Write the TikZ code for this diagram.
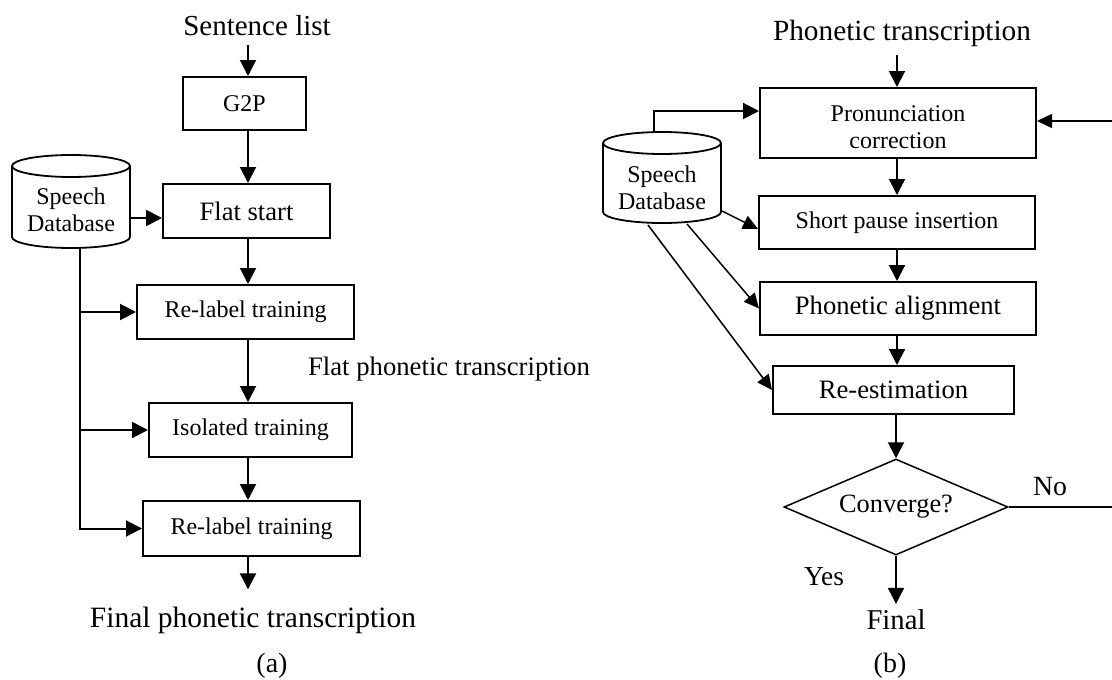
\documentclass[tikz,border=0pt]{standalone}
\usepackage{fontspec}
\setmainfont{Liberation Serif}
\usetikzlibrary{arrows.meta,shapes.geometric}
\begin{document}
\begin{tikzpicture}[x=1pt,y=-1pt,
  proc/.style={draw,line width=2pt,inner sep=0pt,align=center},
  fs/.style={font=\fontsize{24}{27}\selectfont},
  fm/.style={font=\fontsize{26.6}{29}\selectfont},
  fl/.style={font=\fontsize{29}{32}\selectfont},
  lbl/.style={inner sep=0pt,anchor=base},
  arr/.style={line width=2pt,-{Triangle[length=16pt,width=16pt]}},
  darr/.style={line width=1.5pt,-{Triangle[length=15pt,width=14pt]}},
  cyl/.style={line width=1.8pt},
]
\fill[white] (0,0) rectangle (1112,680);
\useasboundingbox (0,0) rectangle (1112,680);
\clip (0,0) rectangle (1112,680);

% ---------------- (a) ----------------
\coordinate (lx) at (248,0);
\node[lbl,fl] (sl) at (257,35) {Sentence list};
\node[proc,fs,minimum width=123pt,minimum height=53pt] (g2p) at (244.5,103.5) {G2P};
\node[proc,fm,minimum width=167pt,minimum height=54pt] (flat) at (246.5,211) {Flat start};
\node[proc,fs,minimum width=217pt,minimum height=54pt] (rl1) at (245.5,312) {Re-label training};
\node[proc,fs,minimum width=203pt,minimum height=54pt] (iso) at (250.5,430) {Isolated training};
\node[proc,fs,minimum width=217pt,minimum height=55pt] (rl2) at (251.5,528.5) {Re-label training};
\node[lbl,font=\fontsize{26.7}{29}\selectfont] (fpt) at (449,375) {Flat phonetic transcription};
\node[lbl,font=\fontsize{29.5}{32}\selectfont] (fin1) at (253,627) {Final phonetic transcription};
\node[lbl,font=\fontsize{28}{30}\selectfont] (capa) at (272,672) {(a)};

% database (a)
\draw[cyl] (12,166) -- (12,237) arc[start angle=180,end angle=360,x radius=59pt,y radius=11pt] -- (130,166);
\draw[cyl] (71,166) ellipse[x radius=59pt,y radius=11pt];
\node[fs,align=center,inner sep=0pt] (db1) at (71,210) {Speech\\Database};
\coordinate (db1r) at (130,218);
\coordinate (db1b) at (80,247);

\draw[arr] (sl.south -| lx) ++(0,10) -- (g2p.north -| lx);
\draw[arr] (g2p.south -| lx) -- (flat.north -| lx);
\draw[arr] (flat.south -| lx) -- (rl1.north -| lx);
\draw[arr] (rl1.south -| lx) -- (iso.north -| lx);
\draw[arr] (iso.south -| lx) -- (rl2.north -| lx);
\draw[arr] (rl2.south -| lx) -- ([yshift=17pt]fin1.north -| lx);
\draw[arr] (db1r) -- (db1r -| flat.west);
\draw[arr] (db1b) |- (rl2.west);
\draw[arr] (db1b |- rl1.west) -- (rl1.west);
\draw[arr] (db1b |- iso.west) -- (iso.west);

% ---------------- (b) ----------------
\coordinate (ax) at (897,0);
\node[lbl,font=\fontsize{29.3}{32}\selectfont] (pt) at (902,40) {Phonetic transcription};
\node[proc,minimum width=276pt,minimum height=70pt] (pron) at (898,123) {};
\node[inner sep=0pt,align=center,font=\fontsize{24}{26.5}\selectfont] (pronT) at (898,127) {Pronunciation\\correction};
\node[proc,fs,minimum width=276pt,minimum height=53pt] (spi) at (897,222.5) {Short pause insertion};
\node[proc,fm,minimum width=276pt,minimum height=53pt] (pa) at (898,308.5) {Phonetic alignment};
\node[proc,fm,minimum width=241pt,minimum height=48pt] (re) at (893.5,390) {Re-estimation};
\node[draw,diamond,line width=1.5pt,shape aspect=2.33,minimum width=224pt,minimum height=96pt,inner sep=0pt,font=\fontsize{26.4}{29}\selectfont] (conv) at (896,507) {Converge?};
\node[lbl,font=\fontsize{28.7}{31}\selectfont] (fin2) at (896,629) {Final};
\node[lbl,font=\fontsize{27.4}{30}\selectfont] (yes) at (824,585) {Yes};
\node[lbl,font=\fontsize{27.8}{30}\selectfont] (no) at (1050,495) {No};
\node[lbl,font=\fontsize{28}{30}\selectfont] (capb) at (890,672) {(b)};

% database (b)
\draw[cyl] (603,143) -- (603,212) arc[start angle=180,end angle=360,x radius=59pt,y radius=11pt] -- (721,143);
\draw[cyl] (662,143) ellipse[x radius=59pt,y radius=11pt];
\node[fs,align=center,inner sep=0pt] (db2) at (662,188) {Speech\\Database};
\coordinate (d2t) at (654,132.5);
\coordinate (d2a) at (722,211);
\coordinate (d2b) at (687,224);
\coordinate (d2c) at (648,225);

\draw[arr] (pt.south -| ax) ++(0,9) -- (pron.north -| ax);
\draw[arr] (pron.south -| ax) -- (spi.north -| ax);
\draw[arr] (spi.south -| ax) -- (pa.north -| ax);
\draw[arr] (pa.south -| ax) -- (re.north -| ax);
\draw[arr] (re.south -| conv) -- (conv.north);
\draw[arr] (conv.south) -- ([yshift=5pt]fin2.north -| conv);
\draw[arr] (d2t) |- ([yshift=12pt]pron.west);
\draw[darr] (d2a) -- ([yshift=-6.5pt]spi.west);
\draw[darr] (d2b) -- (pa.west);
\draw[darr] (d2c) -- (re.west);
\draw[darr] (conv.east) -- ++(124,0) |- ([yshift=2pt]pron.east);
\end{tikzpicture}
\end{document}
